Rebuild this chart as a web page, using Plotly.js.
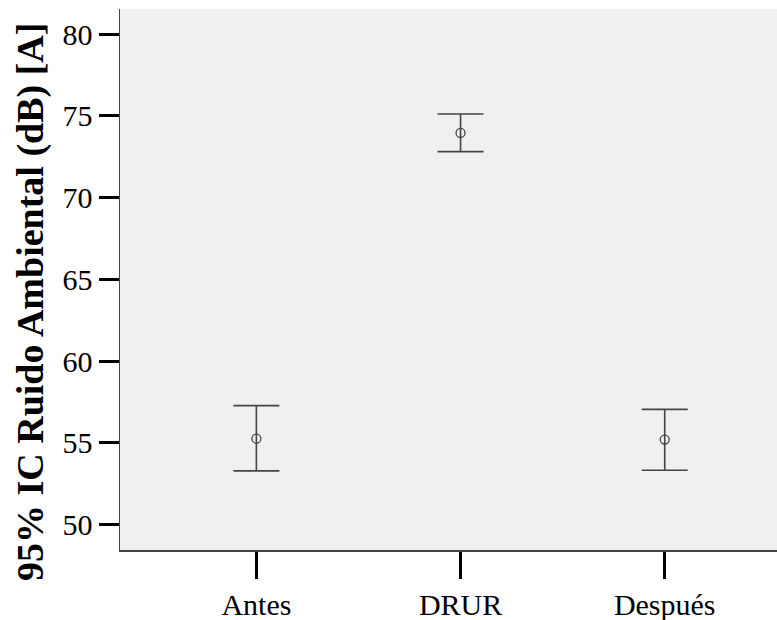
<!DOCTYPE html>
<html>
<head>
<meta charset="utf-8">
<script src="https://cdn.plot.ly/plotly-3.0.1.min.js"></script>
<style>html,body{margin:0;padding:0;background:#fff;}#chart{width:777px;height:620px;}</style>
</head>
<body>
<div id="chart"></div>
<script>
const categories = ["Antes", "DRUR", "Después"];
const means = [55.26, 73.95, 55.20];
const lower = [53.29, 72.81, 53.33];
const upper = [57.28, 75.11, 57.05];
const yTickVals = [50, 55, 60, 65, 70, 75, 80];
const yTitle = "95% IC Ruido Ambiental (dB) [A]";

const trace = {
  type: "scatter",
  mode: "markers",
  x: categories,
  y: means,
  marker: {symbol: "circle-open", size: 9, color: "#444", line: {width: 1.3, color: "#444"}},
  error_y: {
    type: "data",
    symmetric: false,
    array: upper.map((u, i) => u - means[i]),
    arrayminus: lower.map((l, i) => means[i] - l),
    color: "#444",
    thickness: 1.6,
    width: 23
  },
  hoverinfo: "skip",
  showlegend: false
};

const font = {family: "'Liberation Serif', 'Times New Roman', serif", size: 30, color: "#000"};

const layout = {
  width: 777,
  height: 620,
  margin: {l: 120, r: 0, t: 9, b: 70, pad: 0},
  paper_bgcolor: "#ffffff",
  plot_bgcolor: "#f0f0f0",
  font: font,
  xaxis: {
    type: "category",
    range: [-0.668, 2.55],
    showgrid: false,
    zeroline: false,
    showline: true,
    linecolor: "#444",
    linewidth: 1.5,
    ticks: "outside",
    ticklen: 27,
    tickwidth: 3,
    tickcolor: "#000",
    tickfont: font
  },
  yaxis: {
    range: [48.45, 81.53],
    tickvals: yTickVals,
    ticktext: yTickVals.map(String),
    showgrid: false,
    zeroline: false,
    showline: true,
    linecolor: "#444",
    linewidth: 1.5,
    ticks: "outside",
    ticklen: 20,
    tickwidth: 3,
    tickcolor: "#000",
    tickfont: font
  },
  annotations: [{
    text: "<b>" + yTitle + "</b>",
    xref: "paper", yref: "paper",
    x: (30 - 120) / 657, y: (550 - 302) / 541,
    xanchor: "center", yanchor: "middle",
    textangle: -90,
    showarrow: false,
    font: {family: "'Liberation Serif', 'Times New Roman', serif", size: 38, color: "#000"}
  }]
};

Plotly.newPlot("chart", [trace], layout, {displayModeBar: false, staticPlot: true});
</script>
</body>
</html>
